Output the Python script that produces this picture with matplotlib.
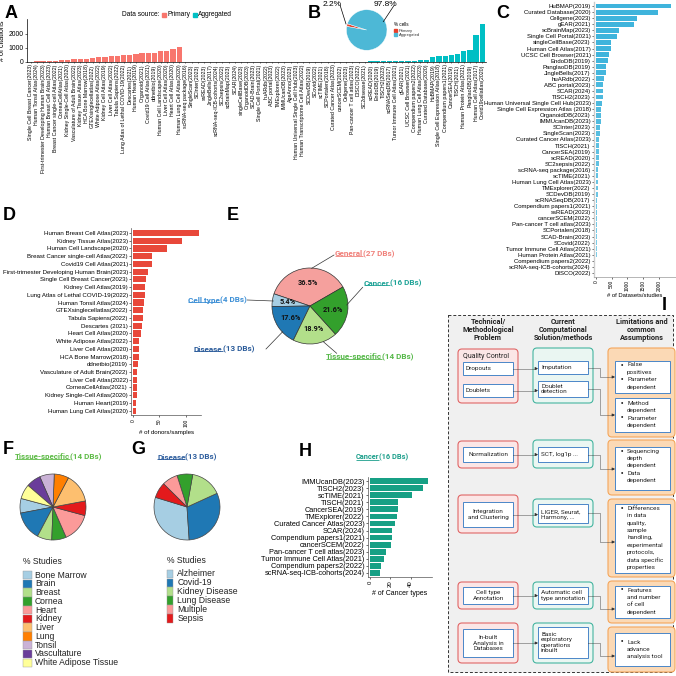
import matplotlib
matplotlib.use('Agg')
import matplotlib.pyplot as plt
import numpy as np
from matplotlib.patches import FancyBboxPatch, Rectangle

plt.rcParams['font.family'] = ['Liberation Sans', 'DejaVu Sans']

# ---------------- DATA ----------------
primary_names = ["Single Cell Breast Cancer(2023)", "Human Tonsil Atlas(2024)",
                 "First-trimester Developing Human Brain(2023)", "Human Breast Cell Atlas(2023)",
                 "Breast Cancer single-cell Atlas(2022)", "CorneaCellAtlas(2021)",
                 "Kidney Single-Cell Atlas(2020)", "Vasculature of Adult Brain(2022)",
                 "Kidney Tissue Atlas(2023)", "HCA Bone Marrow(2018)", "GTEXsinglecellatlas(2022)",
                 "White Adipose Atlas(2022)", "Kidney Cell Atlas(2019)", "Liver Cell Atlas(2022)",
                 "Tabula Sapiens(2022)", "Lung Atlas of Lethal COVID-19(2022)", "Descartes(2021)",
                 "Human Heart(2019)", "Organoid(2021)", "Covid19 Cell Atlas(2021)", "ddnetbio(2019)",
                 "Human Cell Landscape(2020)", "Liver Cell Atlas(2020)", "Heart Cell Atlas(2020)",
                 "Human Lung Cell Atlas(2020)"]
primary_citations = [30, 40, 50, 70, 90, 140, 160, 180, 180, 230, 300, 320, 365, 410, 435, 480,
                     500, 560, 600, 620, 660, 750, 780, 917, 1075]

aggregated_names = ["scRNA-seq package(2016)", "SingleScan(2023)", "SCInter(2023)", "ssREAD(2023)",
                    "JingleBells(2017)", "scRNA-seq-ICB-cohorts(2024)", "SC2sepsis(2022)",
                    "scBrainMap(2023)", "SCAR(2024)", "singleCellBase(2023)", "OrganoidDB(2023)",
                    "SCAD-Brain(2023)", "Single Cell Portal(2021)", "huARdb(2022)", "ABC portal(2023)",
                    "TMExplorer(2022)", "IMMUcanDB(2023)", "AgeAnno(2023)",
                    "Human Universal Single Cell Hub(2023)", "Human Transcriptome Cell Atlas(2022)",
                    "SCDevDB(2019)", "SCovid(2022)", "scTIME(2021)", "SCPortalen(2018)",
                    "Curated Cancer Atlas(2023)", "cancerSCEM(2022)", "Cellgene(2023)",
                    "Pan-cancer T cell atlas(2023)", "DISCO(2022)", "SC2disease(2021)", "scREAD(2020)",
                    "EndoDB(2019)", "TISCH2(2023)", "scRNASeqDB(2017)", "Tumor Immune Cell Atlas(2021)",
                    "gEAR(2021)", "UCSC Cell Browser(2021)", "Compendium papers2(2022)",
                    "Human Lung Cell Atlas(2023)", "Curated Database(2020)", "HuBMAP(2019)",
                    "Single Cell Expression Atlas(2018)", "Compendium papers1(2021)", "CancerSEA(2019)",
                    "TISCH(2021)", "Human Protein Atlas(2021)", "PanglaoDB(2019)",
                    "Human Cell Atlas(2017)", "Covid19cellatlas(2020)"]
aggregated_citations = [2, 2, 3, 3, 4, 4, 5, 5, 6, 6, 7, 7, 8, 8, 9, 10, 10, 11, 12, 13, 14, 15, 16,
                        18, 20, 22, 24, 27, 30, 33, 37, 42, 48, 55, 62, 70, 80, 95, 110, 140, 330,
                        420, 440, 470, 560, 790, 840, 1890, 2650]

cells_labels = ["Primary", "Aggregated"]
cells_pct = [2.2, 97.8]

datasets_names = ["HuBMAP(2019)", "Curated Database(2020)", "Cellgene(2023)", "gEAR(2021)",
                  "scBrainMap(2023)", "Single Cell Portal(2021)", "singleCellBase(2023)",
                  "Human Cell Atlas(2017)", "UCSC Cell Browser(2021)", "EndoDB(2019)",
                  "PanglaoDB(2019)", "JingleBells(2017)", "huARdb(2022)", "ABC portal(2023)",
                  "SCAR(2024)", "TISCH2(2023)", "Human Universal Single Cell Hub(2023)",
                  "Single Cell Expression Atlas (2018)", "OrganoidDB(2023)", "IMMUcanDB(2023)",
                  "SCInter(2023)", "SingleScan(2023)", "Curated Cancer Atlas(2023)", "TISCH(2021)",
                  "CancerSEA(2019)", "scREAD(2020)", "SC2sepsis(2022)", "scRNA-seq package(2016)",
                  "scTIME(2021)", "Human Lung Cell Atlas(2023)", "TMExplorer(2022)", "SCDevDB(2019)",
                  "scRNASeqDB(2017)", "Compendium papers1(2021)", "ssREAD(2023)", "cancerSCEM(2022)",
                  "Pan-cancer T cell atlas(2023)", "SCPortalen(2018)", "SCAD-Brain(2023)",
                  "SCovid(2022)", "Tumor Immune Cell Atlas(2021)", "Human Protein Atlas(2021)",
                  "Compendium papers2(2022)", "scRNA-seq-ICB-cohorts(2024)", "DISCO(2022)"]
datasets_counts = [2380, 1965, 1296, 1200, 742, 680, 488, 467, 403, 382, 329, 315, 244, 223, 212,
                   210, 205, 170, 165, 160, 138, 130, 95, 90, 85, 82, 80, 76, 62, 57, 52, 48, 45,
                   40, 38, 35, 30, 28, 25, 22, 20, 18, 15, 10, 3]

donors_names = ["Human Breast Cell Atlas(2023)", "Kidney Tissue Atlas(2023)",
                "Human Cell Landscape(2020)", "Breast Cancer single-cell Atlas(2022)",
                "Covid19 Cell Atlas(2021)", "First-trimester Developing Human Brain(2023)",
                "Single Cell Breast Cancer(2023)", "Kidney Cell Atlas(2019)",
                "Lung Atlas of Lethal COVID-19(2022)", "Human Tonsil Atlas(2024)",
                "GTEXsinglecellatlas(2022)", "Tabula Sapiens(2022)", "Descartes (2021)",
                "Heart Cell Atlas(2020)", "White Adipose Atlas(2022)", "Liver Cell Atlas(2020)",
                "HCA Bone Marrow(2018)", "ddnetbio(2019)", "Vasculature of Adult Brain(2022)",
                "Liver Cell Atlas(2022)", "CorneaCellAtlas(2021)", "Kidney Single-Cell Atlas(2020)",
                "Human Heart(2019)", "Human Lung Cell Atlas(2020)"]
donors_counts = [125, 93, 65, 35, 35, 29, 24, 23, 22, 20, 19, 18, 17, 16, 12, 12, 11, 9, 8, 8,
                 7, 7, 6, 5]

cat_names = ["General", "Cell type", "Disease", "Tissue-specific", "Cancer"]
cat_dbs = [27, 4, 13, 14, 16]

tissue_names = ["Bone Marrow", "Brain", "Breast", "Cornea", "Heart", "Kidney", "Liver", "Lung",
                "Tonsil", "Vascultature", "White Adipose Tissue"]
tissue_counts = [1, 2, 1, 1, 2, 1, 2, 1, 1, 1, 1]

disease_names = ["Alzheimer", "Covid-19", "Kidney Disease", "Lung Disease", "Multiple", "Sepsis"]
disease_counts = [4, 4, 2, 1, 1, 1]

cancer_names = ["IMMUcanDB(2023)", "TISCH2(2023)", "scTIME(2021)", "TISCH(2021)", "CancerSEA(2019)",
                "TMExplorer(2022)", "Curated Cancer Atlas(2023)", "SCAR(2024)",
                "Compendium papers1(2021)", "cancerSCEM(2022)", "Pan-cancer T cell atlas(2023)",
                "Tumor Immune Cell Atlas(2021)", "Compendium papers2(2022)",
                "scRNA-seq-ICB-cohorts(2024)"]
cancer_types = [57, 52, 41, 28, 28, 27, 25, 22, 22, 21, 16, 14, 11, 10]

# ---------------- FIGURE ----------------
W = H = 676
fig = plt.figure(figsize=(6.76, 6.76), dpi=100)


def pax(x0, y0, x1, y1, **kw):
    return fig.add_axes([x0 / W, 1 - y1 / H, (x1 - x0) / W, (y1 - y0) / H], **kw)


def style(ax, col='black'):
    for s in ['top', 'right']:
        ax.spines[s].set_visible(False)
    for s in ['left', 'bottom']:
        ax.spines[s].set_linewidth(0.5)
        ax.spines[s].set_color(col)
    ax.tick_params(length=1.5, width=0.4, pad=1)


# ---- A ----
axA = pax(27, 19.3, 486, 62)
a_names = primary_names + aggregated_names
a_vals = primary_citations + aggregated_citations
a_cols = ['#F8766D'] * len(primary_names) + ['#00BFC4'] * len(aggregated_names)
xa = np.arange(len(a_names))
axA.bar(xa, a_vals, width=0.85, color=a_cols)
axA.set_xlim(-0.6, len(a_names) - 0.4)
axA.set_ylim(0, 3000)
axA.set_xticks(xa)
axA.set_xticklabels(a_names, rotation=90, fontsize=3.8)
axA.set_yticks([0, 1000, 2000])
style(axA)
axA.tick_params(axis='y', labelsize=4.9)
axA.tick_params(axis='x', length=1, pad=0.8)
axA.set_ylabel('# of citations', fontsize=5.2, labelpad=1.5)

# ---- B ----
RB = 20.3
axB = pax(366.7 - 22, 30 - 22, 366.7 + 22, 30 + 22)
axB.pie(cells_pct, colors=['#E8402A', '#4DB8D6'], startangle=162, radius=1,
        wedgeprops=dict(edgecolor='white', linewidth=0.3))
axB.set_xlim(-22 / RB, 22 / RB)
axB.set_ylim(-22 / RB, 22 / RB)
axB.set_aspect('equal')

# ---- C ----
axC = pax(594.1, 2.4, 676, 276.6)
yc = np.arange(len(datasets_names))
cmap_c = matplotlib.colors.LinearSegmentedColormap.from_list('c', ['#BFE6F2', '#3FB4DC'])
normv = np.log10(np.array(datasets_counts) + 1) / np.log10(400)
axC.barh(yc, datasets_counts, height=0.8, color=cmap_c(np.clip(normv, 0, 1)))
axC.set_ylim(len(datasets_names) - 0.4, -0.6)
axC.set_xlim(-60, 2540)
axC.set_yticks(yc)
axC.set_yticklabels(datasets_names, fontsize=4.3)
axC.set_xticks([0, 500, 1000, 1500, 2000])
axC.set_xticklabels(['0', '500', '1000', '1500', '2000'], rotation=90, fontsize=3.5)
axC.set_xlabel('# of Datasets/studies', fontsize=4.2, labelpad=1.5)
style(axC, '#999999')
axC.spines['left'].set_linewidth(1.0)
axC.spines['left'].set_color('#CCCCCC')

# ---- D ----
axD = pax(131.4, 228.4, 200.8, 415.3)
yd = np.arange(len(donors_names))
axD.barh(yd, donors_counts, height=0.8, color='#E8483A')
axD.set_ylim(len(donors_names) - 0.4, -0.6)
axD.set_xlim(-3, 128)
axD.set_yticks(yd)
axD.set_yticklabels(donors_names, fontsize=4.4)
axD.set_xticks([0, 50, 100])
axD.set_xticklabels(['0', '50', '100'], rotation=90, fontsize=3.5)
axD.set_xlabel('# of donors/samples', fontsize=4.4, labelpad=2)
style(axD, '#555555')

# ---- H ----
axH = pax(368, 476.8, 432, 577.2)
yh = np.arange(len(cancer_names))
axH.barh(yh, cancer_types, height=0.8, color='#16A085')
axH.set_ylim(len(cancer_names) - 0.4, -0.6)
axH.set_xlim(-2, 61)
axH.set_yticks(yh)
axH.set_yticklabels(cancer_names, fontsize=5.3)
axH.set_xticks([0, 20, 40])
axH.set_xticklabels(['0', '20', '40'], rotation=90, fontsize=4.3)
axH.set_xlabel('# of Cancer types', fontsize=5, labelpad=2)
style(axH, '#555555')

# ---- E ----
RE = 38
axE = pax(310 - 45, 306 - 45, 310 + 45, 306 + 45)
e_cols = ['#F5A09D', '#A6CEE3', '#1F78B4', '#B2DF8A', '#33A02C']
axE.pie(cat_dbs, colors=e_cols, startangle=30, counterclock=True, autopct='%1.1f%%',
        pctdistance=0.6, wedgeprops=dict(edgecolor='#333333', linewidth=0.5),
        textprops=dict(fontsize=5.3, fontweight='bold', family='Roboto', color='#111111'))
axE.set_xlim(-45 / RE, 45 / RE)
axE.set_ylim(-45 / RE, 45 / RE)
axE.set_aspect('equal')

# ---- F ----
RF = 33
axF = pax(53 - 38, 507 - 38, 53 + 38, 507 + 38)
f_cols = ['#A6CEE3', '#1F78B4', '#B2DF8A', '#33A02C', '#FB9A99', '#E31A1C', '#FDBF6F', '#FF7F00',
          '#CAB2D6', '#6A3D9A', '#FFFF99']
axF.pie(tissue_counts, colors=f_cols, startangle=165, counterclock=True,
        wedgeprops=dict(edgecolor='#444444', linewidth=0.5))
axF.set_xlim(-38 / RF, 38 / RF)
axF.set_ylim(-38 / RF, 38 / RF)
axF.set_aspect('equal')

# ---- G ----
axG = pax(187 - 38, 507 - 38, 187 + 38, 507 + 38)
g_cols = ['#A6CEE3', '#1F78B4', '#B2DF8A', '#33A02C', '#FB9A99', '#E31A1C']
axG.pie(disease_counts, colors=g_cols, startangle=163, counterclock=True,
        wedgeprops=dict(edgecolor='#444444', linewidth=0.5))
axG.set_xlim(-38 / RF, 38 / RF)
axG.set_ylim(-38 / RF, 38 / RF)
axG.set_aspect('equal')

# ---------------- OVERLAY ----------------
ov = fig.add_axes([0, 0, 1, 1], zorder=10)
ov.set_xlim(0, W)
ov.set_ylim(H, 0)
ov.axis('off')
renderer = fig.canvas.get_renderer()
inv = ov.transData.inverted()


def utext(x, y, name, rest, color, fs, ha='left'):
    kw = dict(color=color, fontsize=fs, fontweight='bold', family='Roboto', va='center')
    t1 = ov.text(x, y, name, ha='left', **kw)
    bb1 = t1.get_window_extent(renderer=renderer)
    t2 = ov.text(0, y, rest, ha='left', **kw)
    bb2 = t2.get_window_extent(renderer=renderer)
    w1 = bb1.width
    w2 = bb2.width
    if ha == 'right':
        x0 = x - (w1 + w2) * W / fig.bbox.width
    elif ha == 'center':
        x0 = x - (w1 + w2) / 2 * W / fig.bbox.width
    else:
        x0 = x
    t1.set_x(x0)
    x1 = x0 + w1 * W / fig.bbox.width
    t2.set_x(x1)
    ybot = inv.transform((bb1.x0, bb1.y0 + 0.18 * bb1.height))[1]
    ov.plot([x0, x1], [ybot, ybot], color=color, lw=0.6, solid_capstyle='butt')


# panel letters
for lab, (lx, ly) in {'A': (5, 13), 'B': (308, 14), 'C': (496, 13), 'D': (3, 215), 'E': (227, 216),
                      'F': (3, 450), 'G': (131, 450), 'H': (299, 452), 'I': (662, 306)}.items():
    ov.text(lx, ly, lab, fontsize=13, fontweight='bold', va='center', ha='left')

# A legend
ov.text(122.5, 15, 'Data source:', fontsize=4.8, va='center')
ov.add_patch(Rectangle((162.3, 12.7), 4, 4.6, color='#F8766D'))
ov.text(167.5, 15, 'Primary', fontsize=4.8, va='center')
ov.add_patch(Rectangle((192.7, 12.7), 4, 4.6, color='#00BFC4'))
ov.text(198.3, 15, 'Aggregated', fontsize=4.8, va='center')

# B labels
ov.text(332, 4.5, '2.2%', fontsize=6, va='center', ha='center')
ov.text(385, 4.5, '97.8%', fontsize=6, va='center', ha='center')
ov.plot([340, 346], [5, 24], color='black', lw=0.5)
ov.plot([394, 383.3], [5.5, 21.7], color='black', lw=0.5)
ov.text(394, 24.3, '% cells', fontsize=3.3, va='center')
ov.add_patch(Rectangle((394, 29.3), 2.7, 2.8, color='#E8402A'))
ov.text(398.5, 30.7, 'Primary', fontsize=3, va='center', color='#333333')
ov.add_patch(Rectangle((394, 33.3), 2.7, 3.2, color='#4DB8D6'))
ov.text(398.5, 35, 'Aggregated', fontsize=3, va='center', color='#333333')

# E labels
utext(335, 254, 'General', '(27 DBs)', '#F0817B', 5.9)
utext(364, 283, 'Cancer', '(16 DBs)', '#1FA397', 5.9)
utext(247, 300, 'Cell type', '(4 DBs)', '#3C8FD6', 5.9, ha='right')
utext(194, 349, 'Disease', '(13 DBs)', '#2A5B9A', 5.9)
utext(326, 357, 'Tissue-specific', '(14 DBs)', '#55B848', 5.9)
for (x0, y0, x1, y1) in [(334, 255, 311.7, 268.3), (362.7, 287.3, 346.7, 305),
                         (247.3, 300, 273.3, 301), (266, 349, 282.7, 331.7),
                         (323.3, 341.7, 336.7, 353.3)]:
    ov.plot([x0, x1], [y0, y1], color='#333333', lw=0.5)

# F/G/H titles
utext(15, 457, 'Tissue-specific', '(14 DBs)', '#5DBB46', 5.8)
utext(157, 457, 'Disease', '(13 DBs)', '#2E5E9E', 5.8)
utext(382, 457, 'Cancer', '(16 DBs)', '#1A9E8A', 5.3, ha='center')

# F legend
ov.text(23.3, 562, '% Studies', fontsize=6.2, va='center', color='#222222')
for i, (nm, c) in enumerate(zip(tissue_names, f_cols)):
    yy = 575 + i * 8.77
    ov.add_patch(Rectangle((23.3, yy - 4.2), 8.4, 8.4, facecolor=c, edgecolor='#999999', lw=0.3))
    ov.text(35, yy, nm, fontsize=6.2, va='center', color='#222222')
# G legend
ov.text(166.7, 560.7, '% Studies', fontsize=6.2, va='center', color='#222222')
for i, (nm, c) in enumerate(zip(disease_names, g_cols)):
    yy = 574 + i * 8.87
    ov.add_patch(Rectangle((166.7, yy - 4.3), 5.8, 8.6, facecolor=c, edgecolor='#999999', lw=0.3))
    ov.text(177.3, yy, nm, fontsize=6.2, va='center', color='#222222')

# ---------------- PANEL I ----------------
ov.add_patch(FancyBboxPatch((448, 315), 225, 357, boxstyle='square,pad=0', facecolor='#F0F0F0',
                            edgecolor='#333333', lw=0.7, linestyle=(0, (3, 2))))
HF = 5.3
BF = 4.6
for hx, hs in [(488, 'Technical/\nMethodological\nProblem'),
               (563.3, 'Current\nComputational\nSolution/methods'),
               (641.7, 'Limitations and\ncommon\nAssumptions')]:
    ov.text(hx, 330, hs, fontsize=HF, fontweight='bold', family='Roboto', ha='center',
            va='center', linespacing=1.0, color='#222222')


def rbox(x0, y0, x1, y1, ec, fc, lw=0.8, r=4):
    ov.add_patch(FancyBboxPatch((x0, y0), x1 - x0, y1 - y0,
                                boxstyle='round,pad=0,rounding_size=%g' % r,
                                facecolor=fc, edgecolor=ec, lw=lw))


def ibox(x0, y0, x1, y1):
    ov.add_patch(Rectangle((x0, y0), x1 - x0, y1 - y0, facecolor='white', edgecolor='#4A86C8',
                           lw=0.7))


RED_E, RED_F = '#E06666', '#FBE6E6'
TEA_E, TEA_F = '#45B5A0', '#EAF6F2'
ORA_E, ORA_F = '#F5A65B', '#FBD9B5'

for (y0, y1) in [(349, 403), (441, 468), (495, 533), (582, 609), (623, 663)]:
    rbox(458, y0, 518, y1, RED_E, RED_F)
for (y0, y1) in [(348, 403), (440, 468), (499, 527), (582, 609), (623, 663)]:
    rbox(533, y0, 593, y1, TEA_E, TEA_F)
for (y0, y1) in [(348, 437), (440, 495), (499, 577), (581, 623), (627, 672)]:
    rbox(608, y0, 675, y1, ORA_E, ORA_F)

for (y0, y1) in [(362, 375), (384, 397), (447, 462), (502, 527), (587, 604), (629, 657)]:
    ibox(463, y0, 513, y1)
for (y0, y1) in [(361, 374), (381, 397), (447, 462), (504, 523), (587, 604), (627, 658)]:
    ibox(538, y0, 588, y1)
for (y0, y1) in [(361, 393), (398, 432), (447, 490), (504, 573), (586, 618), (633, 666)]:
    ibox(615, y0, 670, y1)

tk = dict(fontsize=BF, family='Roboto', va='center', color='#222222', linespacing=1.15)
ov.text(463, 357, 'Quality Control', fontsize=5.0, family='Roboto', va='center', color='#222222')
ov.text(466, 368.5, 'Dropouts', ha='left', **tk)
ov.text(466, 390.5, 'Doublets', ha='left', **tk)
ov.text(488, 454.5, 'Normalization', ha='center', **tk)
ov.text(488, 514.5, 'Integration\nand Clustering', ha='center', **tk)
ov.text(488, 595.5, 'Cell type\nAnnotation', ha='center', **tk)
ov.text(488, 643, 'In-built\nAnalysis in\nDatabases', ha='center', **tk)
ov.text(541, 367.5, 'Imputation', ha='left', **tk)
ov.text(541, 389, 'Doublet\ndetection', ha='left', **tk)
ov.text(541, 454.5, 'SCT, log1p ...', ha='left', **tk)
ov.text(541, 514.5, 'LIGER, Seurat,\nHarmony, ...', ha='left', **tk)
ov.text(541, 595.5, 'Automatic cell\ntype annotation', ha='left', **tk)
ov.text(541, 642.5, 'Basic\nexploratory\noperations\ninbuilt', ha='left', **tk)

bullets = [
    (365, [('False', True), ('positives', False), ('Parameter', True), ('dependent', False)]),
    (403.3, [('Method', True), ('dependent', False), ('Parameter', True), ('dependent', False)]),
    (451, [('Sequencing', True), ('depth', False), ('dependent', False), ('Data', True),
           ('dependent', False)]),
    (508.3, [('Differences', True), ('in data', False), ('quality,', False), ('sample', False),
             ('handling,', False), ('experimental', False), ('protocols,', False),
             ('data specific', False), ('properties', False)]),
    (590, [('Features', True), ('and number', False), ('of cell', False), ('dependent', False)]),
    (642, [('Lack', True), ('advance', False), ('analysis tool', False)]),
]
for y0, lines in bullets:
    for j, (s, b) in enumerate(lines):
        yy = y0 + j * 7.35
        if b:
            ov.text(620.5, yy, '\u2022', ha='left', va='center', fontsize=5.0,
                    family=['Liberation Sans', 'DejaVu Sans'], color='#222222')
        ov.text(627, yy, s, ha='left', **tk)


def darrow(pts):
    xs = [p[0] for p in pts]
    ys = [p[1] for p in pts]
    ov.plot(xs[:-1] + [xs[-1] - 2], ys, color='#333333', lw=0.6, linestyle=(0, (1.2, 1.2)))
    ov.annotate('', xy=pts[-1], xytext=(pts[-1][0] - 2.5, pts[-1][1]),
                arrowprops=dict(arrowstyle='-|>', lw=0.5, color='#333333', mutation_scale=4,
                                shrinkA=0, shrinkB=0))


darrow([(513, 368.5), (538, 368.5)])
darrow([(513, 390.5), (538, 390.5)])
darrow([(513, 454.5), (538, 454.5)])
darrow([(513, 514.5), (538, 514.5)])
darrow([(513, 595.5), (538, 595.5)])
darrow([(513, 643), (538, 643)])
darrow([(588, 367.5), (600, 367.5), (600, 377), (615, 377)])
darrow([(588, 389), (600, 389), (600, 415), (615, 415)])
darrow([(588, 454.5), (600, 454.5), (600, 469), (615, 469)])
darrow([(588, 512.5), (600, 512.5), (600, 542), (615, 542)])
darrow([(588, 595.5), (600, 595.5), (600, 609), (615, 609)])
darrow([(588, 643), (600, 643), (600, 656), (615, 656)])

fig.savefig('out.png', dpi=100)
